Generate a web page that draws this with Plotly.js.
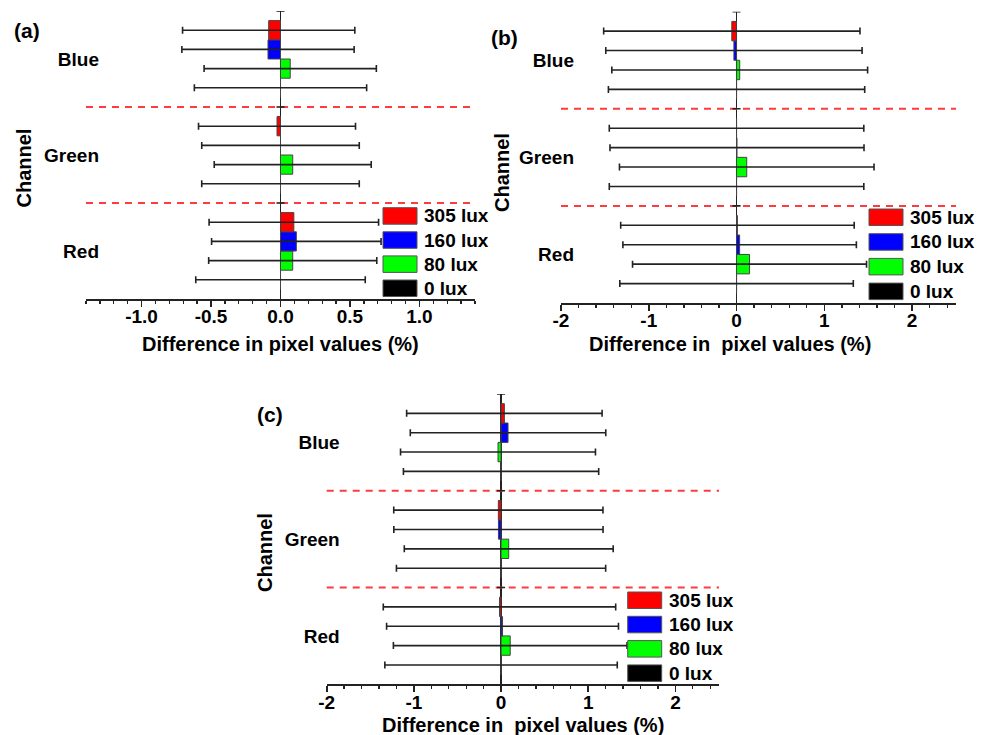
<!DOCTYPE html>
<html>
<head>
<meta charset="utf-8">
<script src="https://cdn.plot.ly/plotly-3.0.1.min.js"></script>
<style>html,body{margin:0;padding:0;background:#fff;}#chart{width:988px;height:735px;}</style>
</head>
<body>
<div id="chart"></div>
<script>
// ---------- data ----------
const channels = ['Red', 'Green', 'Blue'];
const luxLabels = ['0 lux', '80 lux', '160 lux', '305 lux'];
const luxColors = ['#000000', '#00ff00', '#0000ff', '#ff0000'];

// panel (a): values per lux level, in channel order Red, Green, Blue
const a0 = [0, 0, 0],             a0Err = [0.61, 0.567, 0.62];
const a80 = [0.088, 0.088, 0.07], a80Err = [0.605, 0.565, 0.62];
const a160 = [0.114, 0.0, -0.09], a160Err = [0.61, 0.567, 0.62];
const a305 = [0.096, -0.025, -0.085], a305Err = [0.61, 0.565, 0.62];

// panel (b)
const b0 = [0, 0, 0],               b0Err = [1.33, 1.45, 1.46];
const b80 = [0.148, 0.116, 0.036],  b80Err = [1.333, 1.45, 1.457];
const b160 = [0.035, 0.005, -0.03], b160Err = [1.33, 1.447, 1.46];
const b305 = [0.01, 0.0, -0.054],   b305Err = [1.33, 1.45, 1.46];

// panel (c)
const c0 = [0, 0, 0],                 c0Err = [1.333, 1.2, 1.12];
const c80 = [0.105, 0.088, -0.035],   c80Err = [1.34, 1.198, 1.118];
const c160 = [0.017, -0.03, 0.08],    c160Err = [1.33, 1.2, 1.121];
const c305 = [-0.018, -0.031, 0.038], c305Err = [1.333, 1.2, 1.121];

const aTickVals = [-1.0, -0.5, 0.0, 0.5, 1.0];
const aTickText = ['-1.0', '-0.5', '0.0', '0.5', '1.0'];
const bcTickVals = [-2, -1, 0, 1, 2];
const bcTickText = ['-2', '-1', '0', '1', '2'];

const panelLabels = ['(a)', '(b)', '(c)'];
const xTitles = ['Difference in pixel values (%)', 'Difference in\u00a0 pixel values (%)', 'Difference in\u00a0 pixel values (%)'];
const yTitle = 'Channel';

// ---------- layout helpers ----------
const W = 988, H = 735;
const px = x => x / W;
const py = y => 1 - y / H;
const FONT = 'Liberation Sans, Arial, sans-serif';
const INK = '#222222';

const panels = [
  { vals: [a0, a80, a160, a305], errs: [a0Err, a80Err, a160Err, a305Err],
    box: [86, 475, 11, 299], range: [-1.4, 1.4], tv: aTickVals, tt: aTickText, minor: 0.1,
    label: [27, 30], chan: [23.5, 168], title: [280.5, 343.5],
    leg: { left: 383, top: 207.7, pitch: 24.1 } },
  { vals: [b0, b80, b160, b305], errs: [b0Err, b80Err, b160Err, b305Err],
    box: [561, 956, 11.7, 303], range: [-2, 2.5], tv: bcTickVals, tt: bcTickText, minor: 0.2,
    label: [505, 37], chan: [502, 172], title: [730, 344.5],
    leg: { left: 869, top: 209, pitch: 24.7 } },
  { vals: [c0, c80, c160, c305], errs: [c0Err, c80Err, c160Err, c305Err],
    box: [326.7, 719, 394, 684.3], range: [-2, 2.5], tv: bcTickVals, tt: bcTickText, minor: 0.2,
    label: [270, 414], chan: [265, 553], title: [523, 725],
    leg: { left: 627.7, top: 592, pitch: 24.3 } }
];

const data = [];
const shapes = [];
const annotations = [];
const layout = {
  width: W, height: H,
  margin: { l: 0, r: 0, t: 0, b: 0 },
  paper_bgcolor: '#ffffff', plot_bgcolor: 'rgba(0,0,0,0)',
  barmode: 'group', bargap: 0.2, bargroupgap: 0,
  showlegend: false,
  font: { family: FONT, color: '#000', size: 19, weight: 'bold' }
};

panels.forEach((p, i) => {
  const sfx = i === 0 ? '' : String(i + 1);
  const xa = 'x' + sfx, ya = 'y' + sfx;
  const [xl, xr, yt, yb] = p.box;

  p.vals.forEach((v, k) => {
    data.push({
      type: 'bar', orientation: 'h',
      x: v, y: channels, name: luxLabels[k],
      xaxis: xa, yaxis: ya,
      marker: { color: luxColors[k], line: { color: '#444444', width: 1 } },
      error_x: { type: 'data', array: p.errs[k], visible: true, color: INK, thickness: 1.6, width: 3.5 },
      hoverinfo: 'x+y+name'
    });
  });

  layout['xaxis' + sfx] = {
    domain: [px(xl), px(xr)], anchor: ya, range: p.range,
    showline: true, linecolor: INK, linewidth: 1.6,
    ticks: 'outside', ticklen: 6, tickwidth: 1.6, tickcolor: INK,
    tickmode: 'array', tickvals: p.tv, ticktext: p.tt,
    tickfont: { family: FONT, size: 19, color: '#000', weight: 'bold' },
    ticklabelstandoff: -6,
    minor: { dtick: p.minor, tick0: 0, ticks: 'outside', ticklen: 3.5, tickwidth: 1.3, tickcolor: INK, showgrid: false },
    showgrid: false, zeroline: true, zerolinecolor: INK, zerolinewidth: 1.6,
    fixedrange: true
  };
  layout['yaxis' + sfx] = {
    domain: [py(yb), py(yt)], anchor: xa, type: 'category',
    categoryorder: 'array', categoryarray: channels, range: [-0.5, 2.5],
    showline: false, ticks: '', showgrid: false, zeroline: false,
    tickfont: { family: FONT, size: 19, color: '#000', weight: 'bold' },
    ticklabelstandoff: -14,
    fixedrange: true
  };

  // dashed separators between channel groups
  [0.5, 1.5].forEach(yv => {
    shapes.push({ type: 'line', xref: xa + ' domain', x0: 0, x1: 1, yref: ya, y0: yv, y1: yv,
      line: { color: '#ff3b3b', width: 2, dash: '7px,6px' } });
  });
  // small cross ticks on the zero axis
  [0.5, 1.5, 2.5].forEach(yv => {
    shapes.push({ type: 'line', xref: xa, xsizemode: 'pixel', xanchor: 0, x0: -4, x1: 4,
      yref: ya, y0: yv, y1: yv, line: { color: INK, width: 1.6 } });
  });

  // manual legend (large swatches)
  for (let k = 0; k < 4; k++) {
    const idx = 3 - k; // 305 lux on top
    const top = p.leg.top + k * p.leg.pitch;
    const bw = 34, bh = 16.5;
    shapes.push({ type: 'rect', xref: 'paper', yref: 'paper',
      x0: px(p.leg.left), x1: px(p.leg.left + bw), y0: py(top + bh), y1: py(top),
      fillcolor: luxColors[idx], line: { color: '#555555', width: 1 } });
    annotations.push({ xref: 'paper', yref: 'paper', x: px(p.leg.left + bw + 5), y: py(top + bh / 2),
      xanchor: 'left', yanchor: 'middle', showarrow: false, text: luxLabels[idx],
      font: { family: FONT, size: 19, color: '#000', weight: 'bold' } });
  }

  annotations.push({ xref: 'paper', yref: 'paper', x: px(p.label[0]), y: py(p.label[1]),
    xanchor: 'center', yanchor: 'middle', showarrow: false, text: panelLabels[i],
    font: { family: FONT, size: 21, color: '#000', weight: 'bold' } });
  annotations.push({ xref: 'paper', yref: 'paper', x: px(p.chan[0]), y: py(p.chan[1]),
    xanchor: 'center', yanchor: 'middle', showarrow: false, text: yTitle, textangle: -90,
    font: { family: FONT, size: 20, color: '#000', weight: 'bold' } });
  annotations.push({ xref: 'paper', yref: 'paper', x: px(p.title[0]), y: py(p.title[1]),
    xanchor: 'center', yanchor: 'middle', showarrow: false, text: xTitles[i],
    font: { family: FONT, size: 20, color: '#000', weight: 'bold' } });
});

layout.shapes = shapes;
layout.annotations = annotations;

Plotly.newPlot('chart', data, layout, { displayModeBar: false, staticPlot: true });
</script>
</body>
</html>
